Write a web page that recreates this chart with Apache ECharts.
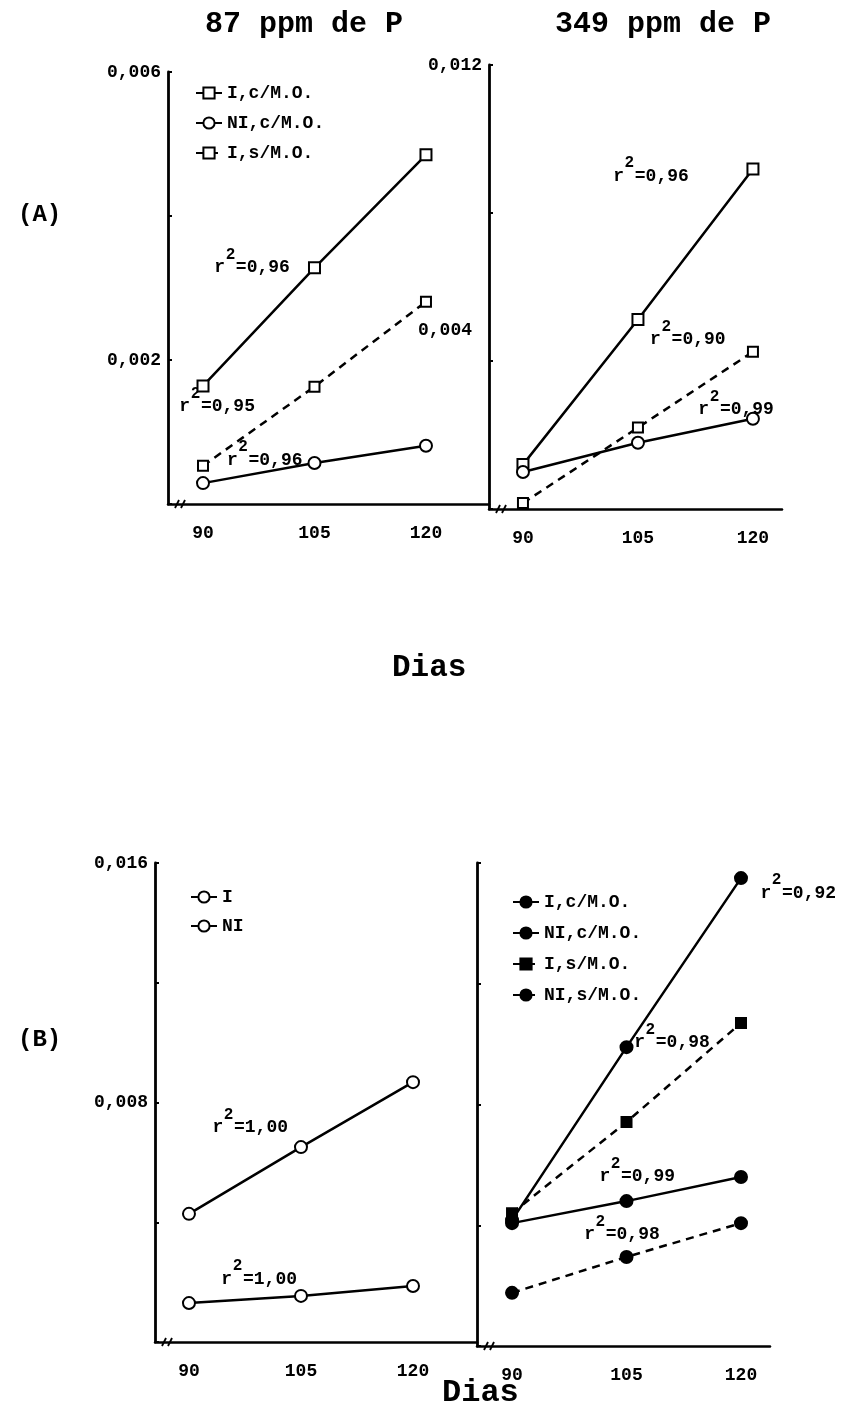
<!DOCTYPE html>
<html>
<head>
<meta charset="utf-8">
<script src="https://cdn.jsdelivr.net/npm/echarts@6.0.0/dist/echarts.min.js"></script>
<style>
  html, body { margin: 0; padding: 0; background: #fff; }
  #chart { width: 843px; height: 1407px; }
</style>
</head>
<body>
<div id="chart"></div>
<script>
  const days = [90, 105, 120]

  // (A) 87 ppm de P
  const a87IcMO = [0.00164, 0.00328, 0.00485]
  const a87NIcMO = [0.00029, 0.00057, 0.00081]
  const a87IsMO = [0.00053, 0.00163, 0.00281]

  // (A) 349 ppm de P
  const a349IcMO = [0.0012, 0.00512, 0.00919]
  const a349NIcMO = [0.001, 0.00179, 0.00244]
  const a349IsMO = [0.00016, 0.0022, 0.00425]

  // (B)
  const bI = [0.00428, 0.00651, 0.00868]
  const bNI = [0.0013, 0.00154, 0.00187]
  const bIcMO = [0.00417, 0.0099, 0.0155]
  const bIsMO = [0.0044, 0.00742, 0.0107]
  const bNIcMO = [0.00407, 0.0048, 0.0056]
  const bNIsMO = [0.00176, 0.00295, 0.00407]

  const xTickLabels = [90, 105, 120]
  const yLabelsA87 = [0.002, 0.006]
  const yLabelsA349 = [0.004, 0.012]
  const yLabelsB = [0.008, 0.016]

  // r² notes: grid, value text, day, y value (centre of the main text)
  const r2Notes = [
    [0, '0,96', 96.6, 0.00328],
    [0, '0,95', 91.9, 0.00135],
    [0, '0,96', 98.3, 0.00061],
    [1, '0,96', 106.7, 0.0090],
    [1, '0,90', 111.5, 0.00458],
    [1, '0,99', 117.8, 0.00268],
    [2, '1,00', 98.2, 0.00715],
    [2, '1,00', 99.4, 0.0021],
    [3, '0,92', 127.5, 0.0150],
    [3, '0,98', 110.96, 0.01004],
    [3, '0,99', 106.4, 0.0056],
    [3, '0,98', 104.4, 0.00368]
  ]

  const FONT = '"Liberation Mono", "DejaVu Sans Mono", monospace'
  const fmt = (v) => v.toFixed(3).replace('.', ',')

  const grids = [
    { left: 168, top: 72, width: 321, height: 432 },
    { left: 489, top: 65, width: 293, height: 444 },
    { left: 155, top: 863, width: 322, height: 479 },
    { left: 477, top: 863, width: 293, height: 483 }
  ]
  const xRanges = [[85.29, 128.48], [85.57, 123.79], [85.45, 128.57], [85.41, 123.8]]

  const xAxes = xRanges.map((r, i) => ({
    gridIndex: i,
    type: 'value',
    min: r[0],
    max: r[1],
    axisLine: { onZero: false, lineStyle: { color: '#000', width: 2.5 } },
    axisTick: { show: false },
    splitLine: { show: false },
    axisLabel: {
      customValues: xTickLabels,
      margin: 20,
      color: '#000',
      fontFamily: FONT,
      fontSize: 18,
      fontWeight: 'bold'
    }
  }))

  const yAxis = (i, max, interval, labels, formatter, rich) => ({
    gridIndex: i,
    type: 'value',
    min: 0,
    max: max,
    interval: interval,
    axisLine: { show: true, lineStyle: { color: '#000', width: 2.8 } },
    axisTick: { show: true, inside: true, length: 4, lineStyle: { color: '#000', width: 2 } },
    splitLine: { show: false },
    axisLabel: {
      show: labels.length > 0,
      customValues: labels,
      margin: 7,
      color: '#000',
      fontFamily: FONT,
      fontSize: 18,
      fontWeight: 'bold',
      formatter: formatter || fmt,
      rich: rich
    }
  })

  const yAxes = [
    yAxis(0, 0.006, 0.002, yLabelsA87),
    yAxis(1, 0.012, 0.004, yLabelsA349,
      (v) => Math.abs(v - 0.004) < 1e-9 ? '{up|' + fmt(v) + '}' : fmt(v),
      { up: { padding: [0, 10, 62, 0], fontFamily: FONT, fontSize: 18, fontWeight: 'bold', color: '#000' } }),
    yAxis(2, 0.016, 0.004, yLabelsB),
    yAxis(3, 0.016, 0.004, [])
  ]

  const line = (name, grid, values, symbol, dashed, filled, size) => ({
    name: name,
    type: 'line',
    xAxisIndex: grid,
    yAxisIndex: grid,
    data: days.map((d, i) => [d, values[i]]),
    symbol: symbol,
    symbolSize: size,
    showAllSymbol: true,
    lineStyle: { color: '#000', width: 2.5, type: dashed ? [8, 6] : 'solid' },
    itemStyle: { color: filled ? '#000' : '#fff', borderColor: '#000', borderWidth: 2 },
    emphasis: { disabled: true }
  })

  const series = [
    line('I,c/M.O.', 0, a87IcMO, 'rect', false, false, 11),
    line('NI,c/M.O.', 0, a87NIcMO, 'circle', false, false, 12),
    line('I,s/M.O.', 0, a87IsMO, 'rect', true, false, 10),
    line('349 I,c/M.O.', 1, a349IcMO, 'rect', false, false, 11),
    line('349 NI,c/M.O.', 1, a349NIcMO, 'circle', false, false, 12),
    line('349 I,s/M.O.', 1, a349IsMO, 'rect', true, false, 10),
    line('I', 2, bI, 'circle', false, false, 12),
    line('NI', 2, bNI, 'circle', false, false, 12),
    line('B I,c/M.O.', 3, bIcMO, 'circle', false, true, 12),
    line('B NI,c/M.O.', 3, bNIcMO, 'circle', false, true, 12),
    line('B I,s/M.O.', 3, bIsMO, 'rect', true, true, 10),
    line('B NI,s/M.O.', 3, bNIsMO, 'circle', true, true, 12)
  ]

  const legendBase = {
    orient: 'vertical',
    itemWidth: 26,
    itemHeight: 14,
    itemGap: 12,
    selectedMode: false,
    padding: 0,
    textStyle: { color: '#000', fontFamily: FONT, fontSize: 18, fontWeight: 'bold' },
    formatter: (n) => n.replace(/^B /, '')
  }

  const titleStyle = (size) => ({ color: '#000', fontFamily: FONT, fontSize: size, fontWeight: 'bold', lineHeight: size })

  const option = {
    animation: false,
    backgroundColor: '#fff',
    title: [
      { text: '87 ppm de P', left: 205, top: 9, padding: 0, textStyle: titleStyle(30) },
      { text: '349 ppm de P', left: 555, top: 9, padding: 0, textStyle: titleStyle(30) },
      { text: 'Dias', left: 392, top: 653, padding: 0, textStyle: titleStyle(31) },
      { text: 'Dias', left: 442, top: 1377, padding: 0, textStyle: titleStyle(32) },
      { text: '(A)', left: 18, top: 203, padding: 0, textStyle: titleStyle(24) },
      { text: '(B)', left: 18, top: 1028, padding: 0, textStyle: titleStyle(24) }
    ],
    legend: [
      Object.assign({}, legendBase, { left: 195, top: 84, data: ['I,c/M.O.', 'NI,c/M.O.', 'I,s/M.O.'] }),
      Object.assign({}, legendBase, { left: 190, top: 888, itemGap: 11, data: ['I', 'NI'] }),
      Object.assign({}, legendBase, { left: 512, top: 893, itemGap: 13, data: ['B I,c/M.O.', 'B NI,c/M.O.', 'B I,s/M.O.', 'B NI,s/M.O.'] })
    ],
    grid: grids,
    xAxis: xAxes,
    yAxis: yAxes,
    series: series
  }

  const chart = echarts.init(document.getElementById('chart'))
  chart.setOption(option)

  // r² annotations and axis break marks
  const graphics = []
  const CH = 10.8
  r2Notes.forEach(([g, txt, d, v]) => {
    const [cx, cy] = chart.convertToPixel({ gridIndex: g }, [d, v])
    const left = cx - (7 * CH) / 2
    graphics.push({
      type: 'text', x: left, y: cy,
      style: { text: 'r =' + txt, fill: '#000', font: 'bold 18px ' + FONT, verticalAlign: 'middle', align: 'left' }
    })
    graphics.push({
      type: 'text', x: left + CH * 1.5, y: cy - 13,
      style: { text: '2', fill: '#000', font: 'bold 16px ' + FONT, verticalAlign: 'middle', align: 'center' }
    })
  })
  xRanges.forEach((r, g) => {
    const [x0, y0] = chart.convertToPixel({ gridIndex: g }, [r[0], 0])
    const x = x0 + 12
    const y = y0
    graphics.push({ type: 'rect', shape: { x: x - 4, y: y - 3, width: 9, height: 6 }, style: { fill: '#fff' } })
    graphics.push({ type: 'line', shape: { x1: x - 5, y1: y + 4, x2: x - 1, y2: y - 4 }, style: { stroke: '#000', lineWidth: 1.8 } })
    graphics.push({ type: 'line', shape: { x1: x + 1, y1: y + 4, x2: x + 5, y2: y - 4 }, style: { stroke: '#000', lineWidth: 1.8 } })
  })
  chart.setOption({ graphic: graphics })
</script>
</body>
</html>
